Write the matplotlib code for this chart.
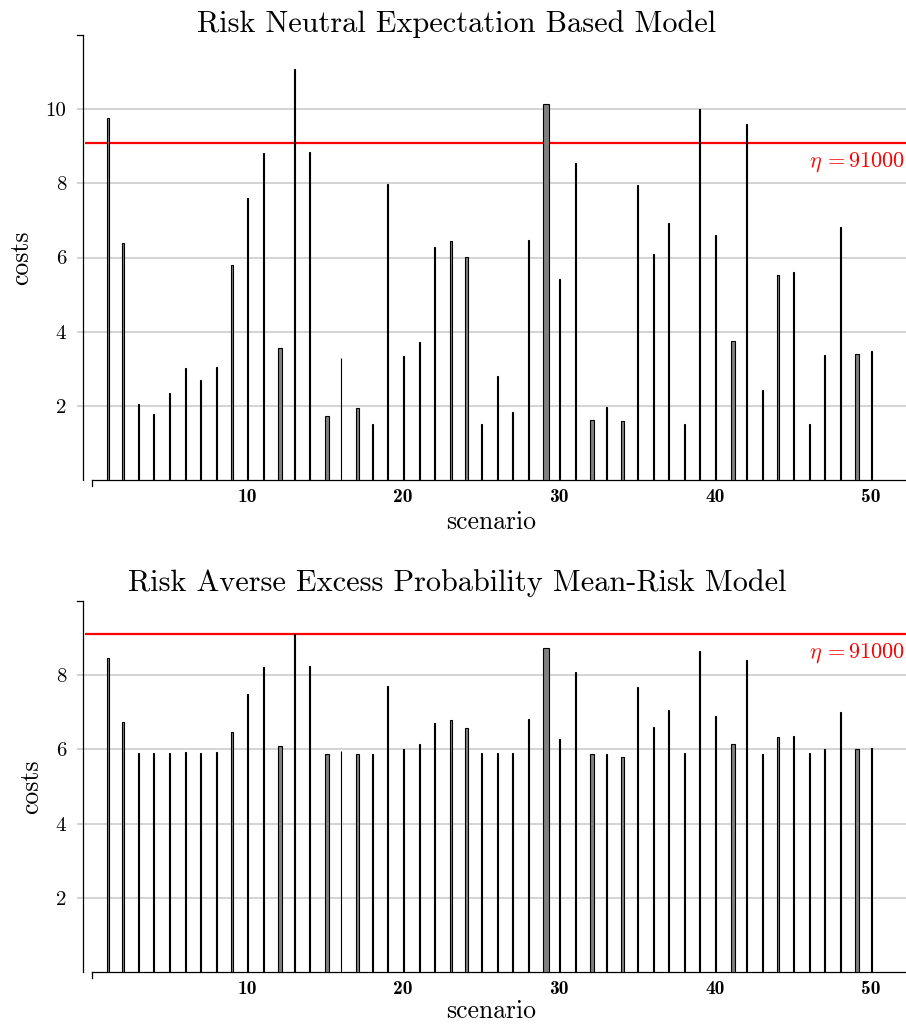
import matplotlib
matplotlib.use("Agg")
import matplotlib.pyplot as plt
import numpy as np

plt.rcParams['mathtext.fontset'] = 'cm'
plt.rcParams['axes.unicode_minus'] = False

scenarios = list(range(1, 51))

# probability of each scenario (sets bar width)
probability = [0.031, 0.018, 0.012, 0.012, 0.012, 0.012, 0.012, 0.012, 0.018, 0.018,
               0.018, 0.051, 0.009, 0.012, 0.051, 0.009, 0.038, 0.012, 0.012, 0.012,
               0.012, 0.012, 0.031, 0.031, 0.018, 0.018, 0.012, 0.018, 0.077, 0.012,
               0.012, 0.051, 0.012, 0.031, 0.012, 0.012, 0.012, 0.012, 0.012, 0.012,
               0.051, 0.012, 0.009, 0.025, 0.018, 0.012, 0.012, 0.012, 0.045, 0.012]

costs_neutral = [9.75, 6.38, 2.04, 1.79, 2.34, 3.01, 2.69, 3.05, 5.81, 7.60,
                 8.82, 3.55, 11.09, 8.85, 1.73, 3.29, 1.93, 1.52, 7.99, 3.34,
                 3.72, 6.27, 6.44, 6.02, 1.52, 2.81, 1.84, 6.48, 10.14, 5.41,
                 8.56, 1.61, 1.97, 1.58, 7.95, 6.09, 6.92, 1.52, 10.00, 6.62,
                 3.75, 9.61, 2.44, 5.53, 5.60, 1.52, 3.36, 6.83, 3.41, 3.47]

costs_averse = [8.47, 6.74, 5.89, 5.89, 5.89, 5.92, 5.89, 5.92, 6.46, 7.48,
                8.23, 6.08, 9.11, 8.25, 5.88, 5.97, 5.88, 5.88, 7.72, 6.00,
                6.14, 6.70, 6.79, 6.57, 5.89, 5.89, 5.89, 6.82, 8.73, 6.27,
                8.08, 5.88, 5.88, 5.79, 7.69, 6.61, 7.07, 5.89, 8.64, 6.89,
                6.15, 8.40, 5.87, 6.34, 6.37, 5.89, 6.00, 7.02, 6.01, 6.04]

eta = 9.1  # 91000 in units of 10^4
eta_label = r'$\eta\,{=}91000$'

titles = ["Risk Neutral Expectation Based Model",
          "Risk Averse Excess Probability Mean-Risk Model"]
yticks_top = [2, 4, 6, 8, 10]
yticks_bot = [2, 4, 6, 8]
xticks = [10, 20, 30, 40, 50]

W, H = 906, 1024
fig = plt.figure(figsize=(W / 100, H / 100), dpi=100)

XMIN, XMAX = -0.9, 52.24
SPINE_X = -0.515
XSTART = 0.06
WIDTH_SCALE = 4.9


def make_axes(top_px, bottom_px, ymax, yticks, values, title, title_y_px, eta_y_px,
              xlabelpad):
    ax = fig.add_axes([77 / W, (H - bottom_px) / H, 1 - 77 / W, (bottom_px - top_px) / H])
    ax.set_xlim(XMIN, XMAX)
    ax.set_ylim(0, ymax)
    for s in ['top', 'right']:
        ax.spines[s].set_visible(False)
    ax.spines['left'].set_position(('data', SPINE_X))
    ax.spines['bottom'].set_bounds(XSTART, XMAX)
    ax.spines['left'].set_linewidth(0.9)
    ax.spines['bottom'].set_linewidth(0.9)
    ax.set_yticks(yticks)
    ax.set_yticklabels([str(t) for t in yticks], fontfamily='cmr10', fontsize=15)
    ax.set_xticks(xticks)
    ax.set_xticklabels([str(t) for t in xticks], fontfamily='cmb10', fontsize=14)
    ax.tick_params(axis='y', length=0, pad=12)
    ax.tick_params(axis='x', length=0, pad=6)
    ax.grid(axis='y', color='#c8c8c8', linewidth=1.1, zorder=0)
    ax.set_axisbelow(True)
    ax.hlines(eta, SPINE_X + 0.1, XMAX, color='red', linewidth=1.6, zorder=2)
    widths = [p * WIDTH_SCALE for p in probability]
    ax.bar(scenarios, values, width=widths, align='edge', color='#808080',
           edgecolor='black', linewidth=0.8, zorder=3)
    # axis caps
    ax.plot([SPINE_X - 0.38, SPINE_X], [ymax, ymax], color='black', lw=0.9,
            clip_on=False, zorder=4)
    ax.plot([XSTART, XSTART], [0, -6 / ((bottom_px - top_px) / ymax)], color='black',
            lw=0.9, clip_on=False, zorder=4)
    ax.set_xlabel('scenario', fontfamily='cmr10', fontsize=18.5, labelpad=xlabelpad)
    ax.set_ylabel('costs', fontfamily='cmr10', fontsize=18.5, labelpad=9)
    fig.text(457 / W, 1 - title_y_px / H, title, fontfamily='cmr10', fontsize=21.8,
             ha='center', va='center')
    fig.text(905 / W, 1 - eta_y_px / H, eta_label, color='red', fontsize=16,
             ha='right', va='center')
    return ax


make_axes(35, 480, 12, yticks_top, costs_neutral, titles[0], 24, 162, 3)
make_axes(601, 972, 10, yticks_bot, costs_averse, titles[1], 583, 653, 1)

fig.savefig('out.png', dpi=100)
